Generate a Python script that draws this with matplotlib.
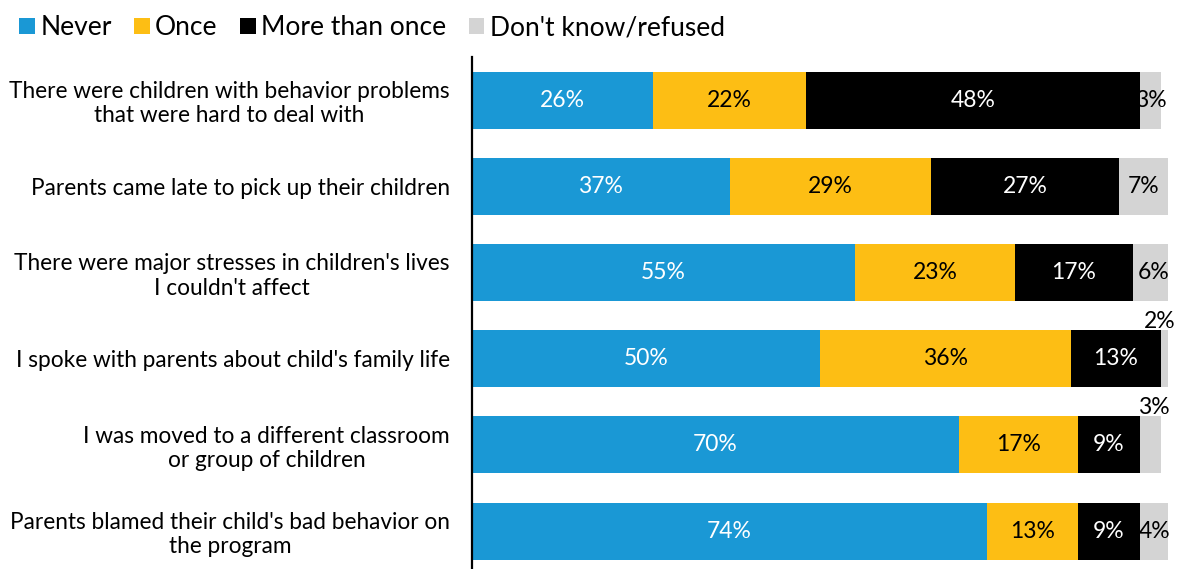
"""Stacked horizontal bars: how often each situation happened."""

import matplotlib

matplotlib.use("Agg")

import matplotlib.pyplot as plt
from matplotlib.patches import Patch

plt.rcParams["font.family"] = ["Lato", "DejaVu Sans"]

categories = [
    "There were children with behavior problems\nthat were hard to deal with",
    "Parents came late to pick up their children",
    "There were major stresses in children's lives\nI couldn't affect",
    "I spoke with parents about child's family life",
    "I was moved to a different classroom\nor group of children",
    "Parents blamed their child's bad behavior on\nthe program",
]
series_names = ["Never", "Once", "More than once", "Don't know/refused"]
never = [26, 37, 55, 50, 70, 74]
once = [22, 29, 23, 36, 17, 13]
more_than_once = [48, 27, 17, 13, 9, 9]
dont_know = [3, 7, 6, 2, 3, 4]

colors = ["#1a98d5", "#fdbe14", "#000000", "#d4d4d4"]
text_colors = ["white", "black", "white", "black"]

fig = plt.figure(figsize=(11.81, 5.69), dpi=100)
ax = fig.add_axes([472 / 1181, 0.0, 696 / 1181, 1 - 57 / 569])

ypos = list(range(len(categories)))
left = [0] * len(categories)
for values, name, color, tcolor in zip(
    [never, once, more_than_once, dont_know], series_names, colors, text_colors
):
    ax.barh(ypos, values, left=left, height=0.66, color=color, label=name)
    for i, v in enumerate(values):
        cx = left[i] + v / 2
        if name == "Don't know/refused" and v <= 3 and i >= 3:
            # too narrow: put the label just above the bar's end
            ax.text(min(cx + 0.5, 98.8), i - 0.31, f"{v}%", ha="center",
                    va="bottom", fontsize=16.5, color=tcolor, clip_on=False)
        else:
            ax.text(cx, i, f"{v}%", ha="center", va="center",
                    fontsize=16.5, color=tcolor)
    left = [l + v for l, v in zip(left, values)]

ax.set_xlim(0, 100)
ax.set_ylim(5.44, -0.5)
ax.set_yticks(ypos)
ax.set_yticklabels(categories, fontsize=16.3, multialignment="center")
ax.tick_params(axis="y", length=0, pad=16)
ax.set_xticks([])
for side in ["top", "right", "bottom"]:
    ax.spines[side].set_visible(False)
ax.spines["left"].set_linewidth(1.6)

handles = [Patch(facecolor=c, edgecolor="none") for c in colors]
fig.legend(handles, series_names, loc="upper left", bbox_to_anchor=(-0.004, 1.015),
           ncol=4, frameon=False, fontsize=19, handlelength=0.6,
           handleheight=0.6, handletextpad=0.2, columnspacing=0.85)

fig.savefig("out.png", dpi=100)
plt.close(fig)
